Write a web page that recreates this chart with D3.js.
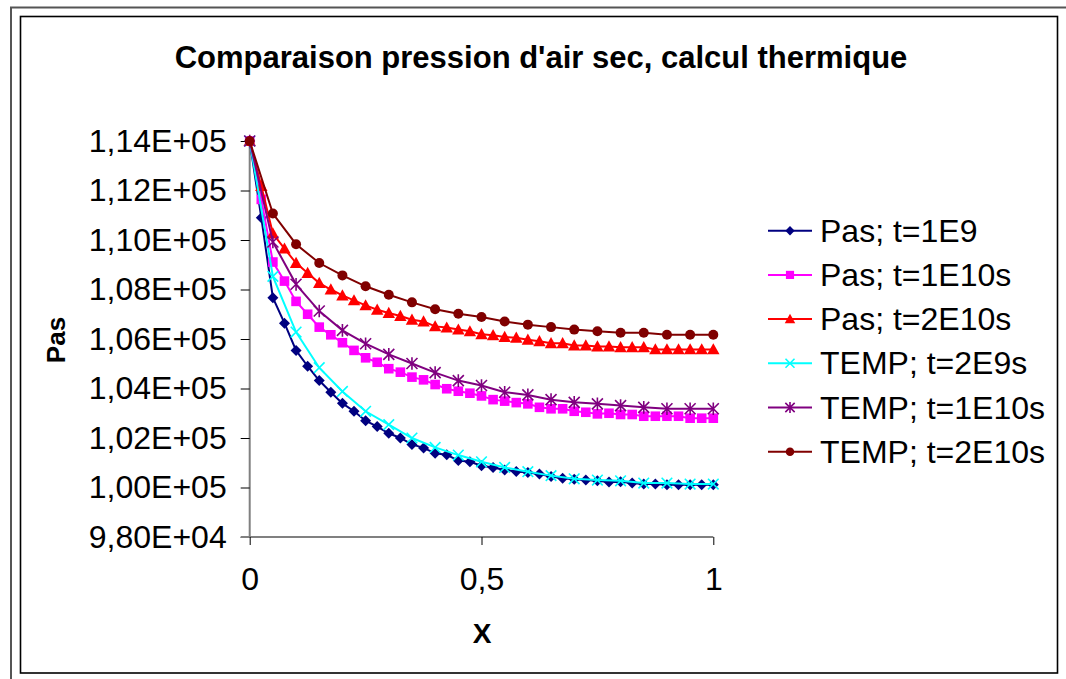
<!DOCTYPE html>
<html>
<head>
<meta charset="utf-8">
<script src="https://cdn.jsdelivr.net/npm/d3@7"></script>
<style>
  html, body { margin: 0; padding: 0; background: #fff; }
  text { font-family: Arial, 'Liberation Sans', sans-serif; fill: #000; }
</style>
</head>
<body>
<div id="chart"></div>
<script>
/* =====================================================
   DATA
===================================================== */
const xFine = [0, 0.025, 0.05, 0.075, 0.1, 0.125, 0.15, 0.175, 0.2, 0.225, 0.25,
  0.275, 0.3, 0.325, 0.35, 0.375, 0.4, 0.425, 0.45, 0.475, 0.5,
  0.525, 0.55, 0.575, 0.6, 0.625, 0.65, 0.675, 0.7, 0.725, 0.75,
  0.775, 0.8, 0.825, 0.85, 0.875, 0.9, 0.925, 0.95, 0.975, 1];
const xCoarse = [0, 0.05, 0.1, 0.15, 0.2, 0.25, 0.3, 0.35, 0.4, 0.45, 0.5,
  0.55, 0.6, 0.65, 0.7, 0.75, 0.8, 0.85, 0.9, 0.95, 1];

const pas1E9 = [114000, 110900, 107670, 106640, 105540, 104900, 104320, 103850, 103400, 103080, 102700,
  102460, 102190, 102000, 101740, 101600, 101380, 101320, 101090, 101040, 100880,
  100810, 100710, 100650, 100610, 100545, 100440, 100370, 100330, 100300, 100270,
  100220, 100230, 100180, 100140, 100140, 100110, 100110, 100110, 100110, 100110];
const pas1E10 = [114000, 111640, 109110, 108340, 107520, 107000, 106480, 106170, 105850, 105540, 105240,
  105060, 104800, 104660, 104460, 104350, 104160, 103990, 103890, 103810, 103700,
  103550, 103490, 103430, 103380, 103240, 103180, 103180, 103080, 103040, 102975,
  103000, 102950, 102950, 102880, 102880, 102880, 102880, 102800, 102800, 102800];
const pas2E10 = [114000, 112180, 110260, 109650, 109070, 108670, 108260, 108000, 107760, 107560, 107360,
  107180, 107050, 106930, 106780, 106710, 106510, 106460, 106380, 106310, 106190,
  106150, 106080, 106050, 105970, 105910, 105830, 105830, 105740, 105740, 105700,
  105700, 105670, 105670, 105670, 105580, 105580, 105580, 105580, 105580, 105580];
const temp2E9 = [114000, 108530, 106280, 104840, 103880, 103080, 102540, 102000, 101620, 101310, 101040,
  100810, 100640, 100480, 100350, 100300, 100270, 100180, 100180, 100140, 100140];
const temp1E10 = [114000, 109920, 108210, 107130, 106350, 105810, 105380, 105010, 104640, 104320, 104120,
  103850, 103740, 103550, 103440, 103380, 103310, 103240, 103180, 103180, 103180];
const temp2E10 = [114000, 111070, 109830, 109070, 108570, 108130, 107790, 107480, 107200, 107020, 106890,
  106710, 106580, 106480, 106380, 106310, 106250, 106250, 106170, 106170, 106170];

const yTicks = [98000, 100000, 102000, 104000, 106000, 108000, 110000, 112000, 114000];
const yTickLabels = ['9,80E+04', '1,00E+05', '1,02E+05', '1,04E+05', '1,06E+05', '1,08E+05', '1,10E+05', '1,12E+05', '1,14E+05'];
const xTicks = [0, 0.5, 1];
const xTickLabels = ['0', '0,5', '1'];

const seriesNames = ['Pas; t=1E9', 'Pas; t=1E10s', 'Pas; t=2E10s', 'TEMP; t=2E9s', 'TEMP; t=1E10s', 'TEMP; t=2E10s'];

/* =====================================================
   CONFIG
===================================================== */
const CONFIG = {
  width: 1066,
  height: 679,
  plot: { left: 249.7, right: 713.3, top: 141, bottom: 537 },
  title: 'Comparaison pression d\'air sec, calcul thermique',
  labelSize: 32,
};

const SERIES = [
  { name: seriesNames[0], xs: xFine, ys: pas1E9, color: '#000080', marker: 'diamond' },
  { name: seriesNames[1], xs: xFine, ys: pas1E10, color: '#FF00FF', marker: 'square' },
  { name: seriesNames[2], xs: xFine, ys: pas2E10, color: '#FF0000', marker: 'triangle' },
  { name: seriesNames[3], xs: xCoarse, ys: temp2E9, color: '#00FFFF', marker: 'cross' },
  { name: seriesNames[4], xs: xCoarse, ys: temp1E10, color: '#800080', marker: 'star' },
  { name: seriesNames[5], xs: xCoarse, ys: temp2E10, color: '#800000', marker: 'circle' },
];

const svg = d3.select('#chart').append('svg')
  .attr('width', CONFIG.width)
  .attr('height', CONFIG.height);

/* =====================================================
   FRAME
===================================================== */
svg.append('path')
  .attr('d', `M11,679 V7.5 H1066`)
  .attr('fill', 'none')
  .attr('stroke', '#555')
  .attr('stroke-width', 2);

svg.append('rect')
  .attr('x', 20.5).attr('y', 16.5)
  .attr('width', 1037).attr('height', 656.5)
  .attr('fill', '#fff')
  .attr('stroke', '#000')
  .attr('stroke-width', 1.6);

/* =====================================================
   SCALES + AXES
===================================================== */
const x = d3.scaleLinear().domain([0, 1]).range([CONFIG.plot.left, CONFIG.plot.right]);
const y = d3.scaleLinear().domain([98000, 114000]).range([CONFIG.plot.bottom, CONFIG.plot.top]);

const yAxis = d3.axisLeft(y)
  .tickValues(yTicks)
  .tickSize(9)
  .tickPadding(14)
  .tickFormat((d, i) => yTickLabels[i]);

const xAxis = d3.axisBottom(x)
  .tickValues(xTicks)
  .tickSize(8)
  .tickPadding(22)
  .tickFormat((d, i) => xTickLabels[i]);

const gy = svg.append('g')
  .attr('transform', `translate(${CONFIG.plot.left},0)`)
  .call(yAxis);
const gx = svg.append('g')
  .attr('transform', `translate(0,${CONFIG.plot.bottom})`)
  .call(xAxis);

[gx, gy].forEach((g) => {
  g.select('.domain').attr('stroke', '#808080').attr('stroke-width', 2);
  g.selectAll('.tick line').attr('stroke', '#000').attr('stroke-width', 1);
  g.selectAll('.tick text')
    .attr('font-family', 'Arial, Liberation Sans, sans-serif')
    .attr('font-size', CONFIG.labelSize)
    .attr('fill', '#000');
});
// x axis domain spans the full width, without end caps
gx.select('.domain').attr('d', `M${CONFIG.plot.left - 9},0H${CONFIG.plot.right}`);
gy.select('.domain').attr('d', `M0,${CONFIG.plot.top}V${CONFIG.plot.bottom}`);

/* =====================================================
   TITLES
===================================================== */
svg.append('text')
  .attr('x', 541).attr('y', 68)
  .attr('text-anchor', 'middle')
  .attr('font-weight', 'bold')
  .attr('font-size', 31)
  .text(CONFIG.title);

svg.append('text')
  .attr('transform', 'translate(65,340) rotate(-90)')
  .attr('text-anchor', 'middle')
  .attr('font-weight', 'bold')
  .attr('font-size', 26)
  .text('Pas');

svg.append('text')
  .attr('x', 482).attr('y', 643)
  .attr('text-anchor', 'middle')
  .attr('font-weight', 'bold')
  .attr('font-size', 28)
  .text('X');

/* =====================================================
   MARKERS
===================================================== */
function drawMarker(g, type, color, cx, cy, scale) {
  const s = scale || 1;
  if (type === 'diamond') {
    const r = 5.5 * s;
    g.append('path').attr('d', `M${cx},${cy - r}L${cx + r},${cy}L${cx},${cy + r}L${cx - r},${cy}Z`).attr('fill', color);
  } else if (type === 'square') {
    const r = 4.8 * s;
    g.append('rect').attr('x', cx - r).attr('y', cy - r).attr('width', 2 * r).attr('height', 2 * r).attr('fill', color);
  } else if (type === 'triangle') {
    const r = 6.2 * s;
    g.append('path').attr('d', `M${cx},${cy - r}L${cx + r},${cy + r * 0.8}L${cx - r},${cy + r * 0.8}Z`).attr('fill', color);
  } else if (type === 'circle') {
    g.append('circle').attr('cx', cx).attr('cy', cy).attr('r', 5 * s).attr('fill', color);
  } else if (type === 'cross') {
    const r = 5.3 * s;
    g.append('path').attr('d', `M${cx - r},${cy - r}L${cx + r},${cy + r}M${cx - r},${cy + r}L${cx + r},${cy - r}`)
      .attr('stroke', color).attr('stroke-width', 1.6).attr('fill', 'none');
  } else if (type === 'star') {
    const r = 5.5 * s;
    g.append('path').attr('d', `M${cx - r},${cy - r}L${cx + r},${cy + r}M${cx - r},${cy + r}L${cx + r},${cy - r}M${cx},${cy - r * 1.15}V${cy + r * 1.15}`)
      .attr('stroke', color).attr('stroke-width', 1.6).attr('fill', 'none');
  }
}

/* =====================================================
   SERIES
===================================================== */
const content = svg.append('g');
SERIES.forEach((s) => {
  const pts = s.xs.map((xv, i) => [xv, s.ys[i]]);
  const line = d3.line().x((d) => x(d[0])).y((d) => y(d[1]));
  const g = content.append('g');
  g.append('path')
    .datum(pts)
    .attr('d', line)
    .attr('fill', 'none')
    .attr('stroke', s.color)
    .attr('stroke-width', 2);
  pts.forEach((p) => drawMarker(g, s.marker, s.color, x(p[0]), y(p[1])));
});

/* =====================================================
   LEGEND
===================================================== */
const legend = svg.append('g');
SERIES.forEach((s, i) => {
  const ly = 230.7 + i * 44.2;
  legend.append('line')
    .attr('x1', 768).attr('x2', 812)
    .attr('y1', ly).attr('y2', ly)
    .attr('stroke', s.color).attr('stroke-width', 2);
  drawMarker(legend, s.marker, s.color, 790, ly, 0.85);
  legend.append('text')
    .attr('x', 820).attr('y', ly + 11)
    .attr('font-size', CONFIG.labelSize)
    .text(s.name);
});
</script>
</body>
</html>
